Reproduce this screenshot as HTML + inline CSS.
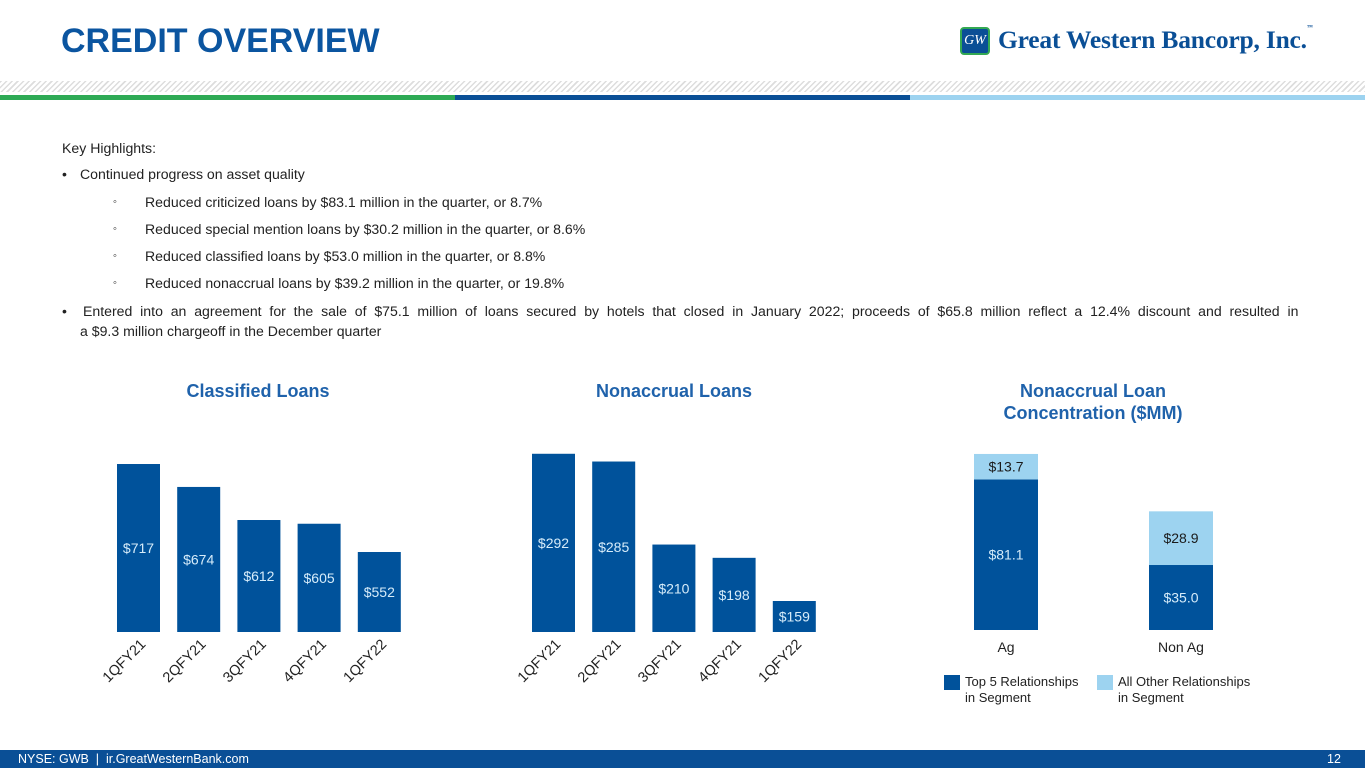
<!DOCTYPE html>
<html><head><meta charset="utf-8">
<style>
body{margin:0;width:1365px;height:768px;position:relative;overflow:hidden;background:#fff;font-family:"Liberation Sans",Arial,sans-serif;}
.t{position:absolute;font-size:14.1px;color:#222;line-height:16px;white-space:nowrap;}
.m{position:absolute;font-size:14.1px;color:#222;line-height:16px;}
</style></head><body>
<div style="position:absolute;left:61px;top:22px;font-size:34px;font-weight:bold;color:#0b55a0;line-height:38px;">CREDIT OVERVIEW</div>
<div style="position:absolute;left:960px;top:27px;">
  <div style="position:absolute;left:0;top:0;width:30px;height:28px;background:#0a4f96;border:2px solid #33a853;border-radius:4px;box-sizing:border-box;color:#fff;font:italic 14px 'Liberation Serif',serif;text-align:center;line-height:24px;">GW</div>
  <div style="position:absolute;left:38px;top:-2px;font:bold 25.5px 'Liberation Serif',serif;color:#0a4f96;white-space:nowrap;letter-spacing:-0.2px;">Great Western Bancorp, Inc.<span style="font-size:6px;vertical-align:top">™</span></div>
</div>
<div style="position:absolute;left:0;top:81px;width:1365px;height:11px;background:repeating-linear-gradient(135deg,#ddd 0 1.5px,#fff 1.5px 4px);"></div>
<div style="position:absolute;left:0;top:95px;width:455px;height:5px;background:#2eaa55;"></div>
<div style="position:absolute;left:455px;top:95px;width:455px;height:5px;background:#0a4f96;"></div>
<div style="position:absolute;left:910px;top:95px;width:455px;height:5px;background:#9dd3f0;"></div>

<div class="t" style="left:62px;top:140px;">Key Highlights:</div>
<div class="m" style="left:62px;top:166px;">•</div>
<div class="t" style="left:80px;top:166px;">Continued progress on asset quality</div>
<div class="m" style="left:113px;top:194px;font-size:11px;">◦</div>
<div class="t" style="left:145px;top:194px;">Reduced criticized loans by $83.1 million in the quarter, or 8.7%</div>
<div class="m" style="left:113px;top:221px;font-size:11px;">◦</div>
<div class="t" style="left:145px;top:221px;">Reduced special mention loans by $30.2 million in the quarter, or 8.6%</div>
<div class="m" style="left:113px;top:248px;font-size:11px;">◦</div>
<div class="t" style="left:145px;top:248px;">Reduced classified loans by $53.0 million in the quarter, or 8.8%</div>
<div class="m" style="left:113px;top:275px;font-size:11px;">◦</div>
<div class="t" style="left:145px;top:275px;">Reduced nonaccrual loans by $39.2 million in the quarter, or 19.8%</div>
<div class="m" style="left:62px;top:303px;">•</div>
<div class="t" style="left:83px;top:303px;word-spacing:3.9px;">Entered into an agreement for the sale of $75.1 million of loans secured by hotels that closed in January 2022; proceeds of $65.8 million reflect a 12.4% discount and resulted in</div>
<div class="t" style="left:80px;top:323px;">a $9.3 million chargeoff in the December quarter</div>

<svg id="charts" width="1365" height="768" style="position:absolute;left:0;top:0;" font-family="Liberation Sans, Arial, sans-serif">
<text x="258" y="397" text-anchor="middle" font-size="18" font-weight="bold" fill="#1f62ab">Classified Loans</text>
<text x="674" y="397" text-anchor="middle" font-size="18" font-weight="bold" fill="#1f62ab">Nonaccrual Loans</text>
<text x="1093" y="397" text-anchor="middle" font-size="18" font-weight="bold" fill="#1f62ab">Nonaccrual Loan</text>
<text x="1093" y="419" text-anchor="middle" font-size="18" font-weight="bold" fill="#1f62ab">Concentration ($MM)</text>
</svg>

<div style="position:absolute;left:0;top:750px;width:1365px;height:18px;background:#0a4f96;"></div>
<div style="position:absolute;left:18px;top:751px;font-size:12.5px;color:#fff;line-height:16px;">NYSE: GWB &nbsp;|&nbsp; ir.GreatWesternBank.com</div>
<div style="position:absolute;left:1327px;top:751px;font-size:12.5px;color:#fff;line-height:16px;">12</div>

<script>
const quarters = ["1QFY21","2QFY21","3QFY21","4QFY21","1QFY22"];
const classifiedValues = [717,674,612,605,552];
const nonaccrualValues = [292,285,210,198,159];
const segments = ["Ag","Non Ag"];
const top5Values = [81.1,35.0];
const otherValues = [13.7,28.9];

const NS="http://www.w3.org/2000/svg";
const svg=document.getElementById('charts');
const DARK="#00529b", LIGHT="#9dd3f0";
function mk(tag,attrs,txt){const e=document.createElementNS(NS,tag);for(const k in attrs)e.setAttribute(k,attrs[k]);if(txt!=null)e.textContent=txt;svg.appendChild(e);return e;}

function barChart(vals,x0,pitch,bw,baseY,vmin,scale,prefix){
  const y=v=>baseY-(v-vmin)*scale;
  vals.forEach((v,i)=>{
    const x=x0+i*pitch;
    const r=mk('rect',{x:x,y:y(v),width:bw,height:baseY-y(v),fill:DARK});
    
    
    const t=mk('text',{x:x+bw/2,y:(y(v)+baseY)/2+5,'text-anchor':'middle','font-size':14,fill:"#d6ecfa"},'$'+v);
    
    
    const cx=x+bw/2+8, cy=baseY+13;
    const l=mk('text',{x:cx,y:cy,'text-anchor':'end','font-size':14.5,fill:"#222",transform:`rotate(-45 ${cx} ${cy})`},quarters[i]);
    
    
  });
}
barChart(classifiedValues,117,60.2,43,632,402,0.5333,'classified');
barChart(nonaccrualValues,532,60.2,43,632,131,1.107,'nonaccrual');

const sBase=630, sScale=1.857, sX=[974,1149], sW=64;
const sy=v=>sBase-v*sScale;
segments.forEach((s,i)=>{
  const a=top5Values[i], b=otherValues[i];
  const r1=mk('rect',{x:sX[i],y:sy(a),width:sW,height:a*sScale,fill:DARK});
  
  
  const r2=mk('rect',{x:sX[i],y:sy(a+b),width:sW,height:b*sScale,fill:LIGHT});
  
  
  const t1=mk('text',{x:sX[i]+sW/2,y:(sy(a)+sBase)/2+5,'text-anchor':'middle','font-size':14,fill:"#d6ecfa"},'$'+a.toFixed(1));
  
  
  const t2=mk('text',{x:sX[i]+sW/2,y:(sy(a)+sy(a+b))/2+5,'text-anchor':'middle','font-size':14,fill:"#1a1a1a"},'$'+b.toFixed(1));
  
  
  const c=mk('text',{x:sX[i]+sW/2,y:652,'text-anchor':'middle','font-size':14,fill:"#222"},s);
  
  
});
const lg=[[944,DARK,"Top 5 Relationships","in Segment",'legend-top5'],[1097,LIGHT,"All Other Relationships","in Segment",'legend-other']];
lg.forEach(([x,c,a,b,n])=>{
  const r=mk('rect',{x:x,y:675,width:16,height:15,fill:c});
  
  
  const t=mk('text',{x:x+21,y:686,'font-size':13,fill:"#222"},a);
  
  
  const t2=mk('text',{x:x+21,y:702,'font-size':13,fill:"#222"},b);
  
  
});
</script>
</body></html>
